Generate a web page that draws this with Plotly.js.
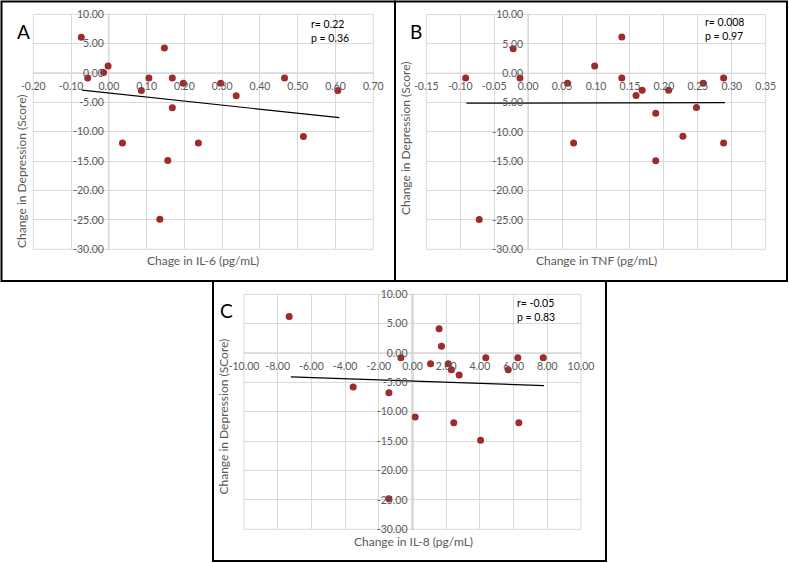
<!DOCTYPE html>
<html>
<head>
<meta charset="utf-8">
<script src="https://cdn.plot.ly/plotly-3.0.1.min.js"></script>
<style>html,body{margin:0;padding:0;background:#fff}#chart{width:789px;height:563px}</style>
</head>
<body>
<div id="chart"></div>
<script>
// ---- Data ----
const il6X = [-0.073, -0.056, -0.014, -0.002, 0.036, 0.086, 0.106, 0.147, 0.135, 0.156, 0.168, 0.168, 0.197, 0.237, 0.296, 0.337, 0.465, 0.515, 0.606];
const il6Y = [6.1, -0.85, 0.1, 1.2, -11.9, -2.95, -0.85, 4.25, -24.9, -14.9, -0.85, -5.9, -1.75, -11.9, -1.75, -3.85, -0.85, -10.8, -2.95];
const il6TrendX = [-0.071, 0.61];
const il6TrendY = [-2.9, -7.6];

const tnfX = [-0.092, -0.072, -0.022, -0.012, 0.058, 0.067, 0.098, 0.138, 0.138, 0.159, 0.168, 0.188, 0.188, 0.207, 0.228, 0.248, 0.258, 0.288, 0.288];
const tnfY = [-0.8, -24.9, 4.2, -0.8, -1.7, -11.9, 1.25, 6.2, -0.8, -3.8, -2.9, -6.8, -14.9, -2.9, -10.75, -5.85, -1.7, -0.8, -11.9];
const tnfTrendX = [-0.091, 0.29];
const tnfTrendY = [-5.1, -5.0];

const il8X = [-7.32, -3.52, -1.40, -1.40, -0.69, 0.16, 1.07, 1.58, 1.72, 2.12, 2.31, 2.45, 2.77, 4.04, 4.35, 5.68, 6.25, 6.31, 7.76];
const il8Y = [6.2, -5.8, -6.75, -24.8, -0.8, -10.9, -1.8, 4.15, 1.15, -1.8, -2.85, -11.85, -3.75, -14.85, -0.8, -2.85, -0.8, -11.85, -0.8];
const il8TrendX = [-7.22, 7.81];
const il8TrendY = [-4.05, -5.55];

const panelLetters = ["A", "B", "C"];
const xTitles = ["Chage in IL-6 (pg/mL)", "Change in TNF (pg/mL)", "Change in IL-8 (pg/mL)"];
const yTitles = ["Change in Depression (Score)", "Change in Depression (Score)", "Change in Depression (SCore)"];
const statTexts = ["r= 0.22<br>p = 0.36", "r= 0.008<br>p = 0.97", "r= -0.05<br>p = 0.83"];

const yTickVals = [10, 5, 0, -5, -10, -15, -20, -25, -30];
const yTickText = ["10.00", "5.00", "0.00", "-5.00", "-10.00", "-15.00", "-20.00", "-25.00", "-30.00"];
const il6TickVals = [-0.2, -0.1, 0, 0.1, 0.2, 0.3, 0.4, 0.5, 0.6, 0.7];
const il6TickText = ["-0.20", "-0.10", "0.00", "0.10", "0.20", "0.30", "0.40", "0.50", "0.60", "0.70"];
const tnfTickVals = [-0.15, -0.1, -0.05, 0, 0.05, 0.1, 0.15, 0.2, 0.25, 0.3, 0.35];
const tnfTickText = ["-0.15", "-0.10", "-0.05", "0.00", "0.05", "0.10", "0.15", "0.20", "0.25", "0.30", "0.35"];
const il8TickVals = [-10, -8, -6, -4, -2, 0, 2, 4, 6, 8, 10];
const il8TickText = ["-10.00", "-8.00", "-6.00", "-4.00", "-2.00", "0.00", "2.00", "4.00", "6.00", "8.00", "10.00"];

// ---- Layout geometry ----
const W = 789, H = 563;
const px = v => v / W;
const py = v => 1 - v / H;
const FONT = "Lato, 'Open Sans', sans-serif";
const markerColor = "#9E2A2A";
const gridColor = "#d9d9d9";
const textGray = "#595959";

const panels = [
  {xs: il6X, ys: il6Y, tx: il6TrendX, ty: il6TrendY, xr: [-0.2, 0.7], tv: il6TickVals, tt: il6TickText,
   dom: [33.3, 373.3], domY: [14.3, 249.3], zl: "#bfbfbf", zw: 1,
   box: [1.5, 1.5, 395, 281], letter: [23, 32], stat: [309, 31], xt: [203, 260], yt: [21, 172]},
  {xs: tnfX, ys: tnfY, tx: tnfTrendX, ty: tnfTrendY, xr: [-0.15, 0.35], tv: tnfTickVals, tt: tnfTickText,
   dom: [426.3, 765.7], domY: [14.6, 249.3], zl: "#bfbfbf", zw: 1,
   box: [395, 1.5, 787, 281], letter: [416, 32], stat: [703, 29], xt: [596, 260], yt: [406, 139]},
  {xs: il8X, ys: il8Y, tx: il8TrendX, ty: il8TrendY, xr: [-10, 10], tv: il8TickVals, tt: il8TickText,
   dom: [244, 581], domY: [294.3, 529.3], zl: "#7f7f7f", zw: 1.5,
   box: [213, 281, 606, 561], letter: [227, 310], stat: [515, 310], xt: [413, 541], yt: [223, 416.5]}
];

const data = [];
const layout = {
  width: W, height: H, margin: {l: 0, r: 0, t: 0, b: 0},
  paper_bgcolor: "#ffffff", plot_bgcolor: "rgba(0,0,0,0)",
  showlegend: false, font: {family: FONT, color: textGray},
  shapes: [], annotations: []
};
const yRange = [-30, 10];

panels.forEach((p, i) => {
  const xn = i === 0 ? "x" : "x" + (i + 1);
  const yn = i === 0 ? "y" : "y" + (i + 1);
  const xk = i === 0 ? "xaxis" : "xaxis" + (i + 1);
  const yk = i === 0 ? "yaxis" : "yaxis" + (i + 1);
  const dx = [px(p.dom[0]), px(p.dom[1])];
  const dy = [py(p.domY[1]), py(p.domY[0])];
  const xZeroPos = dy[0] + (0 - yRange[0]) / (yRange[1] - yRange[0]) * (dy[1] - dy[0]);
  const yZeroPos = dx[0] + (0 - p.xr[0]) / (p.xr[1] - p.xr[0]) * (dx[1] - dx[0]);

  data.push({x: p.tx, y: p.ty, xaxis: xn, yaxis: yn, type: "scatter", mode: "lines",
             line: {color: "#000000", width: 1.2}, hoverinfo: "skip"});
  data.push({x: p.xs, y: p.ys, xaxis: xn, yaxis: yn, type: "scatter", mode: "markers",
             marker: {color: markerColor, size: 7}});

  layout[xk] = {domain: dx, range: p.xr, anchor: "free", position: xZeroPos,
    tickmode: "array", tickvals: p.tv, ticktext: p.tt, ticks: "", ticklabelstandoff: 5,
    showgrid: true, gridcolor: gridColor, gridwidth: 1, zeroline: false, showline: false,
    tickfont: {family: FONT, size: 10.5, color: textGray}, fixedrange: true};
  layout[yk] = {domain: dy, range: yRange, anchor: "free", position: yZeroPos,
    tickmode: "array", tickvals: yTickVals, ticktext: yTickText, ticks: "", ticklabelstandoff: 5,
    showgrid: true, gridcolor: gridColor, gridwidth: 1, zeroline: false, showline: false,
    tickfont: {family: FONT, size: 10.5, color: textGray}, fixedrange: true};

  // plot-area outer frame lines (Excel gridlines include edges)
  layout.shapes.push({type: "rect", xref: xn + " domain", yref: yn + " domain", x0: 0, x1: 1, y0: 0, y1: 1,
    line: {color: gridColor, width: 1}, layer: "below"});
  // axis lines at zero
  layout.shapes.push({type: "line", xref: xn, yref: yn + " domain", x0: 0, x1: 0, y0: 0, y1: 1,
    line: {color: p.zl, width: p.zw}, layer: "below"});
  layout.shapes.push({type: "line", xref: xn + " domain", yref: yn, x0: 0, x1: 1, y0: 0, y1: 0,
    line: {color: "#bfbfbf", width: 1}, layer: "below"});
  // panel border
  layout.shapes.push({type: "rect", xref: "paper", yref: "paper",
    x0: px(p.box[0]), x1: px(p.box[2]), y0: py(p.box[3]), y1: py(p.box[1]),
    line: {color: "#000000", width: 2}});

  layout.annotations.push({xref: "paper", yref: "paper", x: px(p.letter[0]), y: py(p.letter[1]),
    text: panelLetters[i], showarrow: false, xanchor: "center", yanchor: "middle",
    font: {family: FONT, size: 19, color: "#000000"}});
  layout.annotations.push({xref: "paper", yref: "paper", x: px(p.stat[0]), y: py(p.stat[1]),
    text: statTexts[i], showarrow: false, xanchor: "left", yanchor: "middle", align: "left",
    font: {family: FONT, size: 10.5, color: "#000000"}});
  layout.annotations.push({xref: "paper", yref: "paper", x: px(p.xt[0]), y: py(p.xt[1]),
    text: xTitles[i], showarrow: false, xanchor: "center", yanchor: "middle",
    font: {family: FONT, size: 12, color: textGray}});
  layout.annotations.push({xref: "paper", yref: "paper", x: px(p.yt[0]), y: py(p.yt[1]),
    text: yTitles[i], showarrow: false, textangle: -90, xanchor: "center", yanchor: "middle",
    font: {family: FONT, size: 12, color: textGray}});
});

Plotly.newPlot("chart", data, layout, {displayModeBar: false, staticPlot: true});
</script>
</body>
</html>
